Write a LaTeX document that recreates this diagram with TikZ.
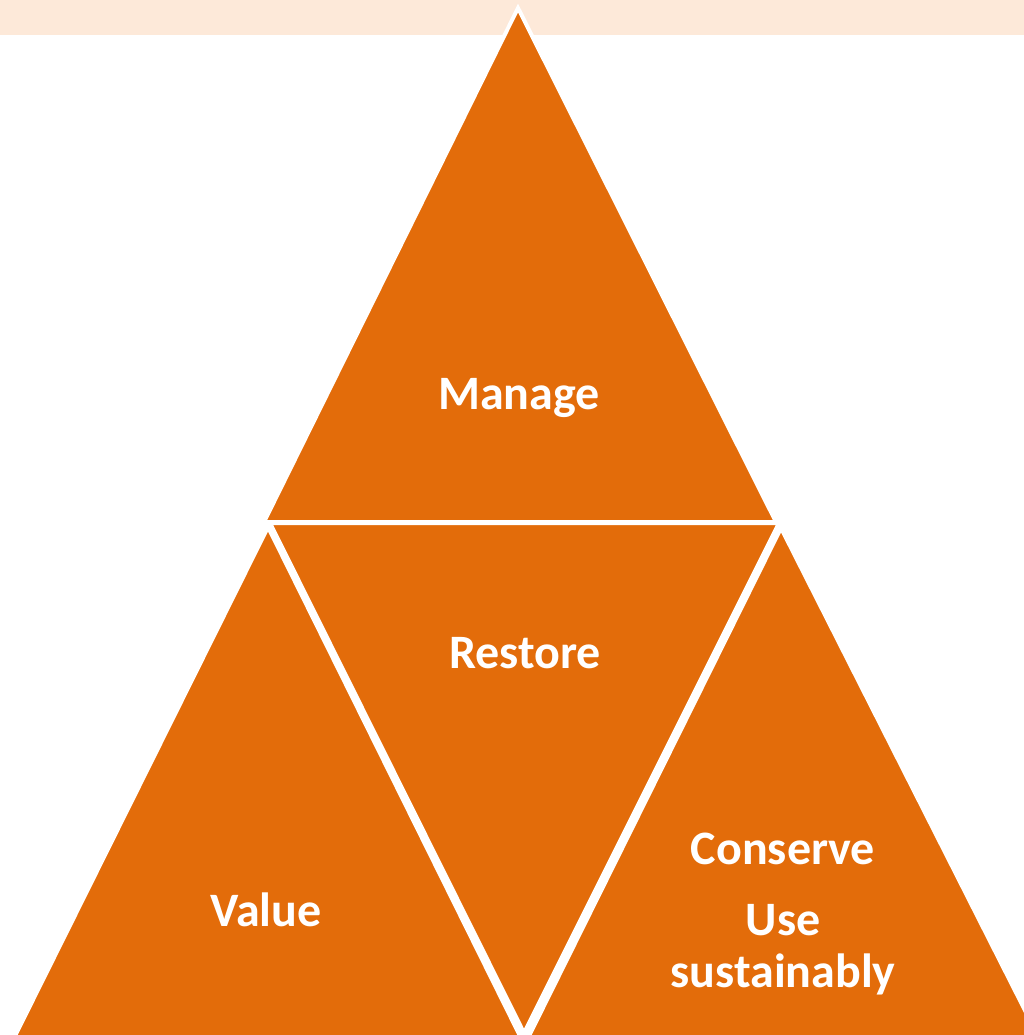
\documentclass[tikz,border=0pt]{standalone}
\usepackage{fontspec}
\setmainfont{Carlito}
\definecolor{tri}{HTML}{E36C0A}
\definecolor{band}{HTML}{FDE9D9}
\begin{document}
\begin{tikzpicture}[x=1pt,y=-1pt,
  tri/.style={fill=tri,draw=white,line width=4pt,line join=miter},
  lbl/.style={text=white,font=\bfseries\fontsize{48}{56}\selectfont,inner sep=0pt,anchor=base}]
\useasboundingbox (0,0) rectangle (1024,1035);
\clip (0,0) rectangle (1024,1035);
\fill[band] (0,0) rectangle (1024,35);
\path[tri] (518,8) -- (776,522) -- (264,522) -- cycle;
\path[tri] (268,527) -- (522,1040) -- (13,1040) -- cycle;
\path[tri] (270,523) -- (779,523) -- (524,1033) -- cycle;
\path[tri] (781,528) -- (1040,1040) -- (527,1040) -- cycle;
\node[lbl] (manage) at (519,409) {Manage};
\node[lbl] (restore) at (525,668) {Restore};
\node[lbl] (value) at (266,926) {Value};
\node[lbl] (conserve) at (783,864) {Conserve};
\node[lbl] (use) at (783,935) {Use};
\node[lbl] (sust) at (783,987) {sustainably};
\end{tikzpicture}
\end{document}
